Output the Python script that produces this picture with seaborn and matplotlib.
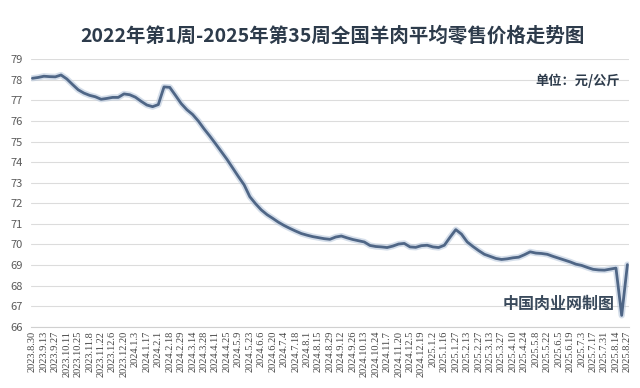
import seaborn as sns
import numpy as np
import pandas as pd
import matplotlib.pyplot as plt

# weekly average retail price of mutton (yuan/kg), 2023.8.30 - 2025.8.27
prices = [
    78.08, 78.12, 78.18, 78.16, 78.15, 78.24, 78.05, 77.78, 77.52, 77.36,
    77.25, 77.18, 77.06, 77.10, 77.15, 77.15, 77.32, 77.28, 77.16, 76.96,
    76.78, 76.70, 76.80, 77.66, 77.64, 77.25, 76.85, 76.55, 76.32, 76.00,
    75.62, 75.27, 74.90, 74.52, 74.14, 73.72, 73.30, 72.90, 72.32, 71.98,
    71.68, 71.45, 71.27, 71.08, 70.92, 70.78, 70.65, 70.53, 70.45, 70.38,
    70.33, 70.28, 70.25, 70.36, 70.41, 70.32, 70.24, 70.18, 70.12, 69.95,
    69.90, 69.88, 69.85, 69.92, 70.02, 70.05, 69.88, 69.86, 69.94, 69.96,
    69.88, 69.85, 69.96, 70.35, 70.72, 70.50, 70.12, 69.90, 69.70, 69.52,
    69.42, 69.32, 69.27, 69.30, 69.35, 69.38, 69.50, 69.64, 69.58, 69.56,
    69.52, 69.42, 69.33, 69.24, 69.15, 69.04, 68.98, 68.88, 68.79, 68.76,
    68.75, 68.80, 68.85, 66.55, 69.02,
]

# one label every two weeks
tick_labels = [
    "2023.8.30", "2023.9.13", "2023.9.27", "2023.10.11", "2023.10.25",
    "2023.11.8", "2023.11.22", "2023.12.6", "2023.12.20",
    "2024.1.3", "2024.1.17", "2024.2.1", "2024.2.18", "2024.2.29",
    "2024.3.14", "2024.3.28", "2024.4.11", "2024.4.25", "2024.5.9",
    "2024.5.23", "2024.6.6", "2024.6.20", "2024.7.4", "2024.7.18",
    "2024.8.1", "2024.8.15", "2024.8.29", "2024.9.12", "2024.9.26",
    "2024.10.13", "2024.10.24", "2024.11.7", "2024.11.20", "2024.12.5",
    "2024.12.19",
    "2025.1.2", "2025.1.16", "2025.1.27", "2025.2.13", "2025.2.27",
    "2025.3.13", "2025.3.27", "2025.4.10", "2025.4.24", "2025.5.8",
    "2025.5.22", "2025.6.5", "2025.6.19", "2025.7.3", "2025.7.17",
    "2025.7.31", "2025.8.14", "2025.8.27",
]

sns.set_style("white")
plt.rcParams['font.family'] = ['Noto Sans CJK SC', 'DejaVu Sans']

df = pd.DataFrame({"week": np.arange(len(prices)), "price": prices})

fig = plt.figure(figsize=(6.4, 3.88), dpi=100)
ax = fig.add_axes([0.048, 0.158, 0.935, 0.689])

# soft halo under the line
sns.lineplot(data=df, x="week", y="price", ax=ax, color="#b9c9dc", lw=4.5, alpha=0.6)
sns.lineplot(data=df, x="week", y="price", ax=ax, color="#4f6686", lw=2.0)

ax.set_ylim(66, 79)
ax.set_xlim(-0.3, len(prices) - 0.7)
ax.set_yticks(range(66, 80))
ax.set_xticks(np.arange(0, len(prices), 2))
ax.set_xticklabels(tick_labels, rotation=90, family='Liberation Serif',
                   fontsize=7.5, color="#444444")
ax.tick_params(axis='y', labelsize=8, colors="#5a5a5a", length=0, pad=6)
ax.tick_params(axis='x', length=0, pad=3)
ax.grid(axis='y', color="#dcdcdc", lw=0.8)
ax.set_axisbelow(True)
ax.set_xlabel("")
ax.set_ylabel("")
for s in ["top", "right", "left"]:
    ax.spines[s].set_visible(False)
ax.spines["bottom"].set_color("#d0d0d0")

fig.text(0.52, 0.908, "2022年第1周-2025年第35周全国羊肉平均零售价格走势图",
         ha='center', va='center', fontsize=14, fontweight='bold', color="#2d3b4b")
ax.text(0.985, 0.92, "单位：元/公斤", transform=ax.transAxes, ha='right', va='center',
        fontsize=9.5, fontweight='bold', color="#2d3b4b")
ax.text(0.975, 0.085, "中国肉业网制图", transform=ax.transAxes, ha='right', va='center',
        fontsize=11.5, fontweight='bold', color="#3a4a5c")

fig.savefig("out.png", dpi=100)
